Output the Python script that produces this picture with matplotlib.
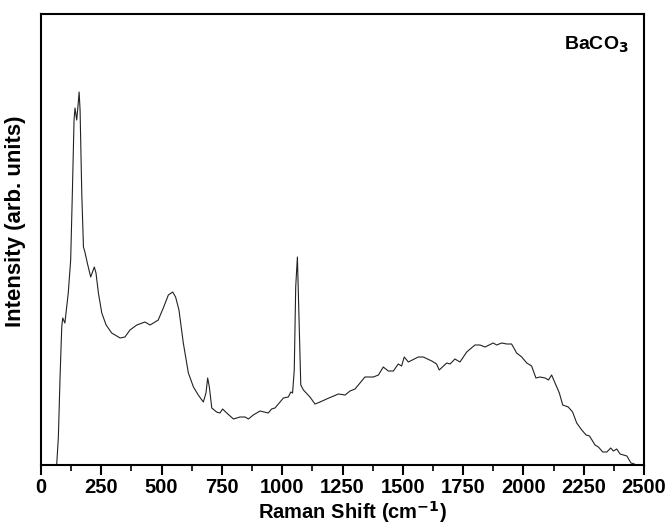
import matplotlib
matplotlib.use("Agg")
import matplotlib.pyplot as plt
from matplotlib.ticker import MultipleLocator, NullLocator

plt.rcParams['font.family'] = ['Liberation Sans', 'DejaVu Sans']

# Raman shift (cm^-1) and intensity (arb. units)
shift = [65, 72, 79, 86, 90, 99, 113, 123, 130, 137, 141, 148, 152, 158, 162,
         169, 176, 182, 192, 206, 221, 228, 238, 252, 270, 293, 328, 348, 369,
         397, 431, 452, 473, 486, 507, 528, 546, 558, 572, 590, 611, 632, 652,
         673, 684, 691, 698, 708, 728, 742, 753, 770, 798, 825, 846, 860, 880,
         908, 942, 956, 970, 1005, 1025, 1036, 1043, 1050, 1056, 1063, 1070,
         1077, 1088, 1115, 1136, 1157, 1184, 1233, 1261, 1281, 1302, 1343,
         1378, 1399, 1419, 1440, 1461, 1481, 1495, 1506, 1523, 1564, 1585,
         1620, 1640, 1651, 1682, 1696, 1716, 1737, 1765, 1799, 1820, 1841,
         1875, 1889, 1910, 1931, 1951, 1972, 1993, 2014, 2034, 2052, 2069,
         2090, 2104, 2117, 2131, 2149, 2163, 2186, 2204, 2221, 2242, 2260,
         2274, 2297, 2311, 2329, 2346, 2362, 2373, 2387, 2401, 2415, 2429,
         2446, 2460, 2465]
pix = [465, 437, 377, 327, 318, 323, 293, 260, 193, 120, 108, 120, 110, 92, 110,
       193, 247, 252, 263, 277, 267, 273, 293, 313, 325, 333, 338, 337, 330,
       325, 322, 325, 322, 320, 308, 295, 292, 297, 310, 343, 373, 387, 395,
       402, 393, 378, 387, 408, 412, 413, 409, 413, 419, 417, 417, 419, 415,
       411, 413, 409, 408, 398, 397, 392, 393, 370, 287, 257, 320,
       385, 390, 397, 404, 402, 399, 394, 395, 391, 389, 377,
       377, 375, 367, 371, 371, 364, 366, 357, 362, 357, 357,
       361, 364, 370, 363, 364, 359, 362, 352, 345, 345, 347,
       343, 345, 343, 344, 344, 353, 357, 363, 366, 378, 377,
       378, 380, 375, 383, 393, 405, 407, 412, 423, 430, 435,
       436, 445, 447, 452, 452, 448, 451, 449, 454, 455, 456,
       463, 464, 465]
intensity = [465 - p for p in pix]

fig = plt.figure(figsize=(6.68, 5.27), dpi=100)
ax = fig.add_axes([41 / 668, 62 / 527, 603 / 668, 451 / 527])

ax.plot(shift, intensity, color='#222222', linewidth=0.8)

ax.set_xlim(0, 2500)
ax.set_ylim(0, 451)
ax.xaxis.set_major_locator(MultipleLocator(250))
ax.xaxis.set_minor_locator(MultipleLocator(125))
ax.yaxis.set_major_locator(NullLocator())
ax.yaxis.set_minor_locator(NullLocator())

for s in ax.spines.values():
    s.set_linewidth(1.5)
ax.tick_params(axis='x', which='major', direction='out', length=7, width=1.5,
               labelsize=14.5, pad=2.5)
ax.tick_params(axis='x', which='minor', direction='out', length=4, width=1.2)
for lab in ax.get_xticklabels():
    lab.set_fontweight('bold')

ax.set_xlabel('Raman Shift (cm$^{\\mathbf{-1}}$)', fontsize=14.5, fontweight='bold')
ax.xaxis.set_label_coords(0.516, -0.076)
ax.set_ylabel('Intensity (arb. units)', fontsize=16, fontweight='bold')
ax.yaxis.set_label_coords(-0.025, 0.54)

ax.text(0.975, 0.955, 'BaCO$_{\\mathbf{3}}$', transform=ax.transAxes,
        ha='right', va='top', fontsize=14, fontweight='bold')

fig.savefig('out.png', dpi=100)
